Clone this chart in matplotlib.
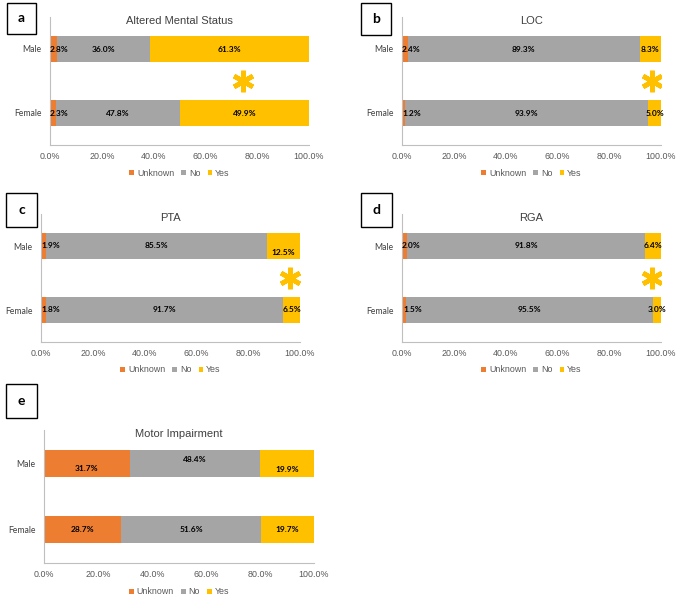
import matplotlib
matplotlib.use("Agg")
import matplotlib.pyplot as plt
from matplotlib.patches import Rectangle, Patch

# ---------------- data ----------------
categories = ["Male", "Female"]
series_names = ["Unknown", "No", "Yes"]
panel_letters = ["a", "b", "c", "d", "e"]
titles = ["Altered Mental Status", "LOC", "PTA", "RGA", "Motor Impairment"]
# values per panel: [Male, Female] for each series
unknown_vals = [[2.8, 2.3], [2.4, 1.2], [1.9, 1.8], [2.0, 1.5], [31.7, 28.7]]
no_vals = [[36.0, 47.8], [89.3, 93.9], [85.5, 91.7], [91.8, 95.5], [48.4, 51.6]]
yes_vals = [[61.3, 49.9], [8.3, 5.0], [12.5, 6.5], [6.4, 3.0], [19.9, 19.7]]
star_x = [74.5, 96.6, 96.1, 96.5, None]   # significance asterisk position (%)
xticks = [0, 20, 40, 60, 80, 100]
xtick_labels = ["0.0%", "20.0%", "40.0%", "60.0%", "80.0%", "100.0%"]

colors = ["#ED7D31", "#A5A5A5", "#FFC000"]

W, H = 676, 597
fig = plt.figure(figsize=(W / 100, H / 100), dpi=100)
fig.patch.set_facecolor("white")

# axes boxes in pixels: left, right, top, bottom
axes_px = [
    (50, 309, 17, 145),
    (402, 661, 17, 145),
    (41, 300, 214, 342),
    (402, 661, 214, 342),
    (44, 314, 430, 563),
]
legend_y = [173, 173, 370, 370, 592]
boxes_px = [
    (7, 36, 3, 34),
    (361, 391, 3, 35),
    (6, 37, 193, 227),
    (361, 392, 193, 227),
    (6, 37, 384, 418),
]

tick_color = "#595959"

for i in range(5):
    l, r, t, b = axes_px[i]
    ax = fig.add_axes([l / W, 1 - b / H, (r - l) / W, (b - t) / H])
    ypos = [0, 1]
    u = unknown_vals[i]
    n = no_vals[i]
    y = yes_vals[i]
    h = 0.41
    ax.barh(ypos, u, height=h, color=colors[0])
    ax.barh(ypos, n, left=u, height=h, color=colors[1])
    left_y = [u[k] + n[k] for k in range(2)]
    ax.barh(ypos, y, left=left_y, height=h, color=colors[2])

    ax.set_xlim(0, 100)
    ax.set_ylim(1.5, -0.5)
    ax.set_yticks(ypos)
    ax.set_yticklabels(categories, fontfamily="Lato", fontsize=6.2, color="#404040")
    ax.set_xticks(xticks)
    ax.set_xticklabels(xtick_labels, fontfamily="Liberation Sans", fontsize=6.4, color=tick_color)
    ax.tick_params(axis="both", length=0)
    ax.tick_params(axis="x", pad=5)
    ax.tick_params(axis="y", pad=6)
    for s in ["top", "right"]:
        ax.spines[s].set_visible(False)
    for s in ["left", "bottom"]:
        ax.spines[s].set_color("#BFBFBF")
        ax.spines[s].set_linewidth(0.8)

    ax.text(0.5, 0.97, titles[i], transform=ax.transAxes, ha="center", va="center",
            fontfamily="Liberation Sans", fontsize=8, color="#404040")

    lab_kw = dict(fontfamily="Lato", fontweight="bold", fontsize=6.0, color="black", va="center")
    for k in range(2):
        # unknown
        if u[k] < 5:
            ax.text(0.0 + (0.6 if i == 3 and k == 1 else 0), k, f"{u[k]:.1f}%", ha="left", **lab_kw)
        else:
            ax.text(u[k] / 2, k + 0.08 * (1 if k == 0 else 0), f"{u[k]:.1f}%", ha="center", **lab_kw)
        # no
        dy = -0.05 if (i == 4 and k == 0) else 0
        ax.text(u[k] + n[k] / 2, k + dy, f"{n[k]:.1f}%", ha="center", **lab_kw)
        # yes
        dy = 0.1 if (i in (2, 4) and k == 0) else 0
        ax.text(left_y[k] + y[k] / 2, k + dy, f"{y[k]:.1f}%", ha="center", **lab_kw)

    if star_x[i] is not None:
        ax.plot([star_x[i]], [0.5], marker=(6, 2, 0), markersize=15.5, markeredgewidth=3.4,
                color="#FFC000", linestyle="none")

    handles = [Patch(facecolor=c, edgecolor="none") for c in colors]
    fig.legend(handles, series_names, loc="center", bbox_to_anchor=((l + r) / 2 / W, 1 - legend_y[i] / H),
               ncol=3, frameon=False, handlelength=0.55, handleheight=0.55, handletextpad=0.3,
               columnspacing=0.8, prop={"family": "Liberation Sans", "size": 6.4},
               labelcolor=tick_color)

    bl, br, bt, bb = boxes_px[i]
    fig.patches.append(Rectangle((bl / W, 1 - bb / H), (br - bl) / W, (bb - bt) / H,
                                 transform=fig.transFigure, facecolor="white",
                                 edgecolor="black", linewidth=1.0))
    fig.text((bl + br) / 2 / W, 1 - (bt + bb) / 2 / H, panel_letters[i], ha="center", va="center",
             fontfamily="Lato", fontweight="bold", fontsize=10, color="black")

fig.savefig("out.png", dpi=100, facecolor="white")
